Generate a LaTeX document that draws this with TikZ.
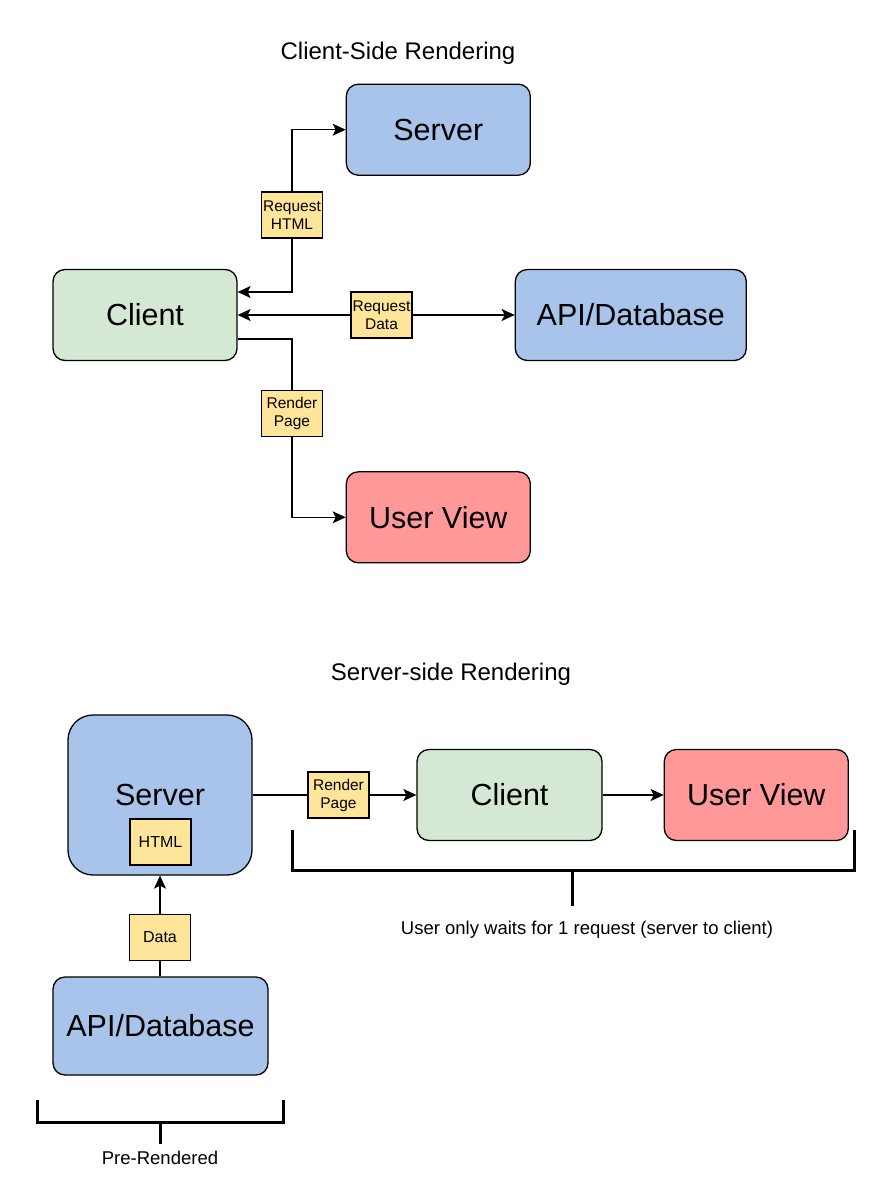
\documentclass[tikz,border=0pt]{standalone}
\usepackage{fontspec}
\setmainfont{Liberation Sans}
\usepackage{tikz}
\usetikzlibrary{positioning, arrows.meta}

\definecolor{boxblue}{HTML}{A9C4EB}
\definecolor{boxgreen}{HTML}{D5E8D4}
\definecolor{boxred}{HTML}{FF9999}
\definecolor{tagyellow}{HTML}{FFE599}

\begin{document}
\begin{tikzpicture}[
    x=1pt, y=-1pt,
    node distance=100pt,
    block/.style={rectangle, rounded corners=12pt, draw, line width=1.3pt, minimum width=184pt, minimum height=91pt, align=center, font=\fontsize{30.5}{34}\selectfont},
    tag/.style={rectangle, draw, line width=1.1pt, fill=tagyellow, minimum width=61pt, minimum height=46pt, inner sep=1pt, align=center, font=\fontsize{15.5}{18}\selectfont},
    title/.style={font=\fontsize{24}{28}\selectfont},
    note/.style={font=\fontsize{18.5}{22}\selectfont},
    arrow/.style={-{Stealth[length=13pt, width=12pt, inset=3pt]}, line width=1.4pt},
    line/.style={line width=1.4pt},
    bracket/.style={line width=3pt}
]
\useasboundingbox (0,0) rectangle (880,1181);

% Client-side rendering
\node[title] (csrtitle) at (398,53) {Client-Side Rendering};
\node[block, fill=boxgreen] (client1) at (145,315) {Client};
\node[block, fill=boxblue, above right=93pt and 108pt of client1] (server1) {Server};
\node[block, fill=boxblue, minimum width=231pt, right=277pt of client1] (api1) {API/Database};
\node[block, fill=boxred, below right=110pt and 108pt of client1] (view1) {User View};

% Labels on the flows
\node[tag] (reqhtml) at (292,215) {Request\\HTML};
\node[tag] (reqdata) at (381.5,315) {Request\\Data};
\node[tag] (render1) at (292,413.5) {Render\\Page};

% Flows
\draw[arrow] (reqhtml.south) |- ([yshift=23pt]client1.east);
\draw[arrow] (reqhtml.north) |- (server1.west);
\draw[arrow] (reqdata.west) -- (client1.east);
\draw[arrow] (reqdata.east) -- (api1.west);
\draw[line] ([yshift=-24pt]client1.east) -| (render1.north);
\draw[arrow] (render1.south) |- (view1.west);

% Server-side rendering
\node[title] (ssrtitle) at (451,674) {Server-side Rendering};
\node[block, fill=boxblue, minimum height=160pt, rounded corners=25pt] (server2) at (160,795) {Server};
\node[tag, font=\fontsize{16}{19}\selectfont] (html) at (160.5,842) {HTML};
\node[block, fill=boxgreen, minimum width=185pt] (client2) at (509.5,795) {Client};
\node[block, fill=boxred, right=61pt of client2] (view2) {User View};
\node[block, fill=boxblue, minimum width=215pt, minimum height=98pt] (api2) at (160.5,1026) {API/Database};

\node[tag] (render2) at (338.5,795) {Render\\Page};
\node[tag, font=\fontsize{16}{19}\selectfont] (data) at (160,937.5) {Data};

\draw[line] (server2.east) -- (render2.west);
\draw[arrow] (render2.east) -- (client2.west);
\draw[arrow] (client2) -- (view2);
\draw[line] (api2.north -| data) -- (data.south);
\draw[arrow] (data.north) -- (server2.south);

% Brackets
\draw[bracket] (292,830) |- (854,870) -- (854,830);
\draw[bracket] (572,870) -- (572,906);
\node[note] (waits) at (587,930) {User only waits for 1 request (server to client)};

\draw[bracket] (37,1100) |- (283,1122) -- (283,1100);
\draw[bracket] (160,1122) -- (160,1144);
\node[note] (prerendered) at (160,1158) {Pre-Rendered};

\end{tikzpicture}
\end{document}
